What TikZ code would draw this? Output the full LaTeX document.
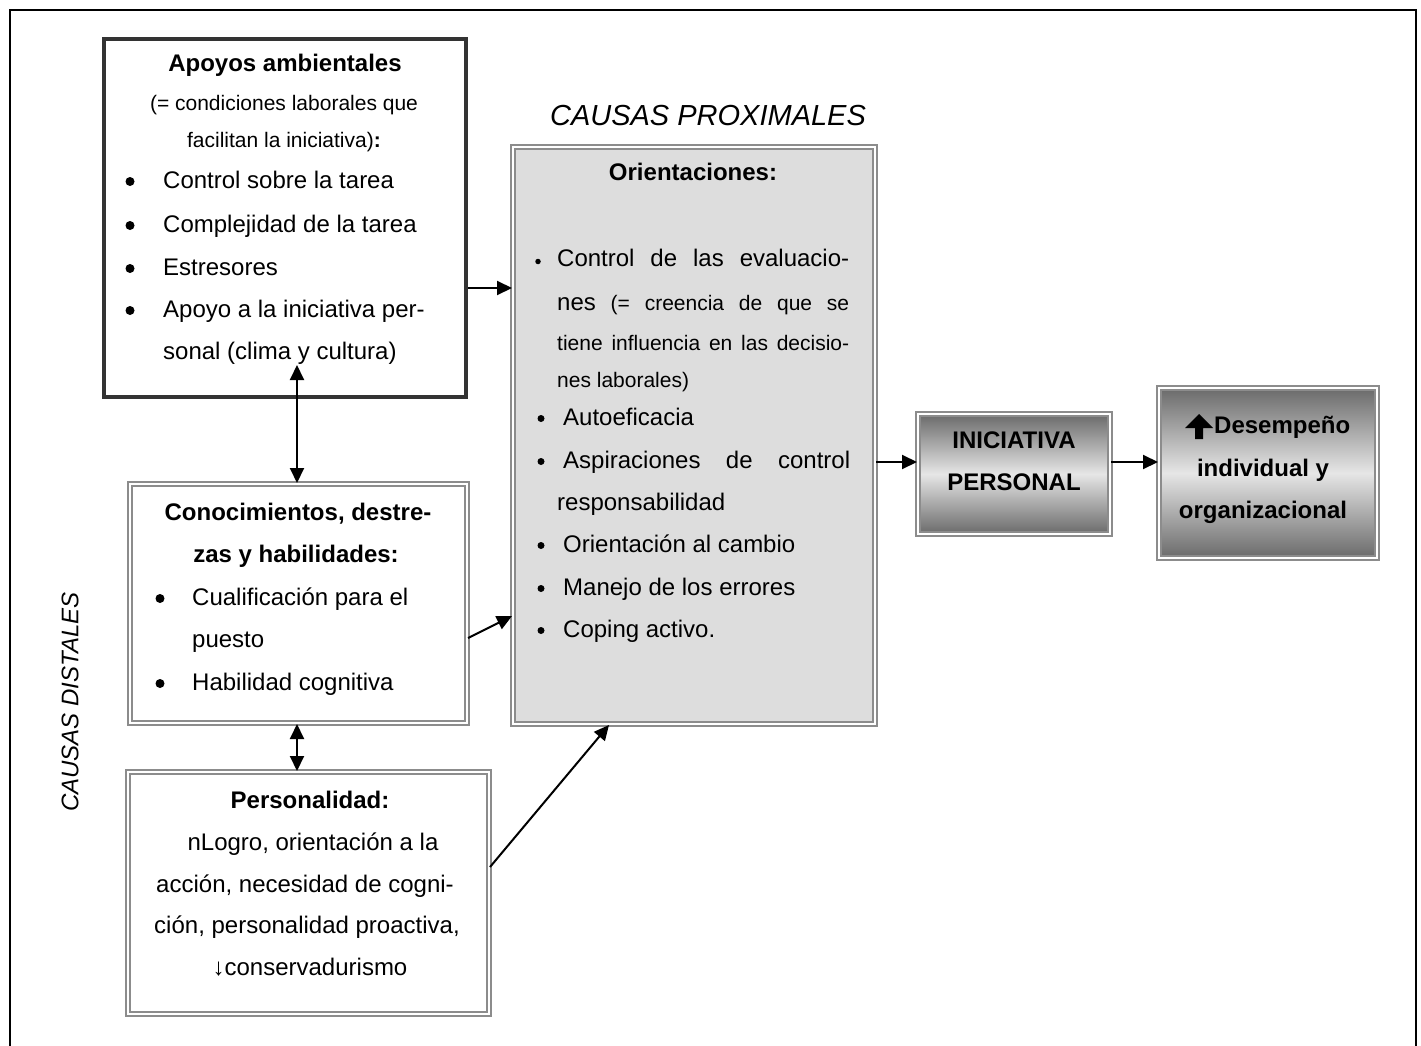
\documentclass[tikz,border=0pt]{standalone}
\usepackage{fontspec}
\setmainfont{Liberation Sans}
\usetikzlibrary{arrows.meta}

\definecolor{framegray}{HTML}{8C8C8C}
\definecolor{boxdark}{HTML}{333333}
\definecolor{panelgray}{HTML}{DDDDDD}
\definecolor{shadedark}{HTML}{6A6A6A}
\definecolor{shadelight}{HTML}{E6E6E6}

\tikzset{
  body/.style={font=\fontsize{24}{28}\selectfont, inner sep=0pt},
  small/.style={font=\fontsize{21}{25}\selectfont, inner sep=0pt},
  head/.style={font=\fontsize{24}{28}\selectfont\bfseries, inner sep=0pt},
  label/.style={font=\fontsize{24}{28}\selectfont\itshape, inner sep=0pt},
  bigdot/.style={circle, fill=black, inner sep=0pt, minimum size=9pt},
  meddot/.style={circle, fill=black, inner sep=0pt, minimum size=7pt},
  tinydot/.style={circle, fill=black, inner sep=0pt, minimum size=5.5pt},
  solidbox/.style={rectangle, draw=boxdark, line width=3.5pt, fill=white, inner sep=0pt},
  doublebox/.style={rectangle, draw=framegray, line width=2pt, double=white,
    double distance=2pt, inner sep=0pt},
  shadedbox/.style={top color=shadedark, bottom color=shadedark, middle color=shadelight},
  conn/.style={line width=2pt, -{Triangle[length=15pt,width=14pt]}},
  biconn/.style={line width=2pt, {Triangle[length=15pt,width=14pt]}-{Triangle[length=15pt,width=14pt]}},
}

\begin{document}
\begin{tikzpicture}[x=1pt,y=-1pt]
\useasboundingbox (0,0) rectangle (1421,1046);

% page frame
\draw[line width=2.2pt] (10,1060) -- (10,10) -- (1416,10) -- (1416,1060);

% boxes
\node[solidbox, minimum width=362pt, minimum height=358pt] (ap) at (285,218) {};
\node[doublebox, minimum width=337pt, minimum height=239pt] (kn) at (298.5,603.5) {};
\node[doublebox, minimum width=361pt, minimum height=242pt] (pe) at (308.5,893) {};
\node[doublebox, fill=panelgray, minimum width=362pt, minimum height=577pt] (or) at (694,435.5) {};
\node[doublebox, shadedbox, minimum width=192pt, minimum height=120pt] (in) at (1014,474) {};
\node[doublebox, shadedbox, minimum width=218pt, minimum height=170pt] (de) at (1268,473) {};

% side labels
\node[font=\fontsize{29}{33}\selectfont\itshape, inner sep=0pt] (prox) at (708,116) {CAUSAS PROXIMALES};
\node[label, rotate=90] (dist) at (70,702) {CAUSAS DISTALES};

% Apoyos ambientales
\node[head, anchor=base] (ap0) at (285,72) {Apoyos ambientales};
\node[small, anchor=base] (ap1) at (284,111) {(= condiciones laborales que};
\node[small, anchor=base] (ap2) at (284,147) {facilitan la iniciativa)\textbf{:}};
\node[bigdot] (apb1) at (130,181.5) {};
\node[body, anchor=base west] (apt1) at (163,188) {Control sobre la tarea};
\node[bigdot] (apb2) at (130,225.5) {};
\node[body, anchor=base west] (apt2) at (163,232) {Complejidad de la tarea};
\node[bigdot] (apb3) at (130,268.5) {};
\node[body, anchor=base west] (apt3) at (163,275) {Estresores};
\node[bigdot] (apb4) at (130,310.5) {};
\node[body, anchor=base west] (apt4) at (163,317) {Apoyo a la iniciativa per-};
\node[body, anchor=base west] (apt5) at (163,359) {sonal (clima y cultura)};

% Conocimientos
\node[head, anchor=base] (kn0) at (298,520) {Conocimientos, destre-};
\node[head, anchor=base] (kn1) at (296,562) {zas y habilidades:};
\node[bigdot] (knb1) at (160,598.5) {};
\node[body, anchor=base west] (knt1) at (192,605) {Cualificación para el};
\node[body, anchor=base west] (knt2) at (192,647) {puesto};
\node[bigdot] (knb2) at (160,683.5) {};
\node[body, anchor=base west] (knt3) at (192,690) {Habilidad cognitiva};

% Personalidad
\node[head, anchor=base] (pe0) at (310,808) {Personalidad:};
\node[body, anchor=base] (pe1) at (313,850) {nLogro, orientación a la};
\node[body, anchor=base] (pe2) at (305,892) {acción, necesidad de cogni-};
\node[body, anchor=base] (pe3) at (307,933) {ción, personalidad proactiva,};
\node[body, anchor=base] (pe4) at (310,975) {↓conservadurismo};

% Orientaciones
\node[head, anchor=base] (or0) at (693,180) {Orientaciones:};
\node[tinydot] (orb1) at (538,261.5) {};
\node[body, anchor=base west] (or1) at (557,266)
  {\hbox to 292pt{Control\hfill de\hfill las\hfill evaluacio-}};
\node[body, anchor=base west] (or2) at (557,310)
  {\hbox to 292pt{nes\hfill{\fontsize{21}{25}\selectfont(=\hfill creencia\hfill de\hfill que\hfill se}}};
\node[small, anchor=base west] (or3) at (557,350)
  {\hbox to 292pt{tiene\hfill influencia\hfill en\hfill las\hfill decisio-}};
\node[small, anchor=base west] (or4) at (557,387) {nes laborales)};
\node[meddot] (orb2) at (541,418.5) {};
\node[body, anchor=base west] (or5) at (563,425) {Autoeficacia};
\node[meddot] (orb3) at (541,461.5) {};
\node[body, anchor=base west] (or6) at (563,468)
  {\hbox to 287pt{Aspiraciones\hfill de\hfill control}};
\node[body, anchor=base west] (or7) at (557,510) {responsabilidad};
\node[meddot] (orb4) at (541,545.5) {};
\node[body, anchor=base west] (or8) at (563,552) {Orientación al cambio};
\node[meddot] (orb5) at (541,588.5) {};
\node[body, anchor=base west] (or9) at (563,595) {Manejo de los errores};
\node[meddot] (orb6) at (541,630.5) {};
\node[body, anchor=base west] (or10) at (563,637) {Coping activo.};

% Iniciativa personal
\node[head, anchor=base] (in0) at (1014,448) {INICIATIVA};
\node[head, anchor=base] (in1) at (1014,490) {PERSONAL};

% Desempeno
\fill (1185,428) -- (1199,414) -- (1213,428) -- (1203,428) -- (1203,439)
  -- (1195,439) -- (1195,428) -- cycle;
\node[head, anchor=base west] (de0) at (1214,433) {Desempeño};
\node[head, anchor=base] (de1) at (1263,476) {individual y};
\node[head, anchor=base] (de2) at (1263,518) {organizacional};

% connector levels
\coordinate (y288) at (0,288);
\coordinate (y638) at (0,638);
\coordinate (y616) at (0,616);
\coordinate (y867) at (0,867);
\coordinate (y462) at (0,462);
\coordinate (x297) at (297,0);
\coordinate (x609) at (609,0);
\coordinate (apin) at (297,365);

% connectors
\draw[conn] (ap.east |- y288) -- (or.west |- y288);
\draw[biconn] (apin) -- (kn.north -| x297);
\draw[biconn] (kn.south -| x297) -- (pe.north -| x297);
\draw[conn] (kn.east |- y638) -- (or.west |- y616);
\draw[conn] (pe.east |- y867) -- (or.south -| x609);
\draw[conn] (or.east |- y462) -- (in.west |- y462);
\draw[conn] (in.east |- y462) -- (de.west |- y462);
\end{tikzpicture}
\end{document}
